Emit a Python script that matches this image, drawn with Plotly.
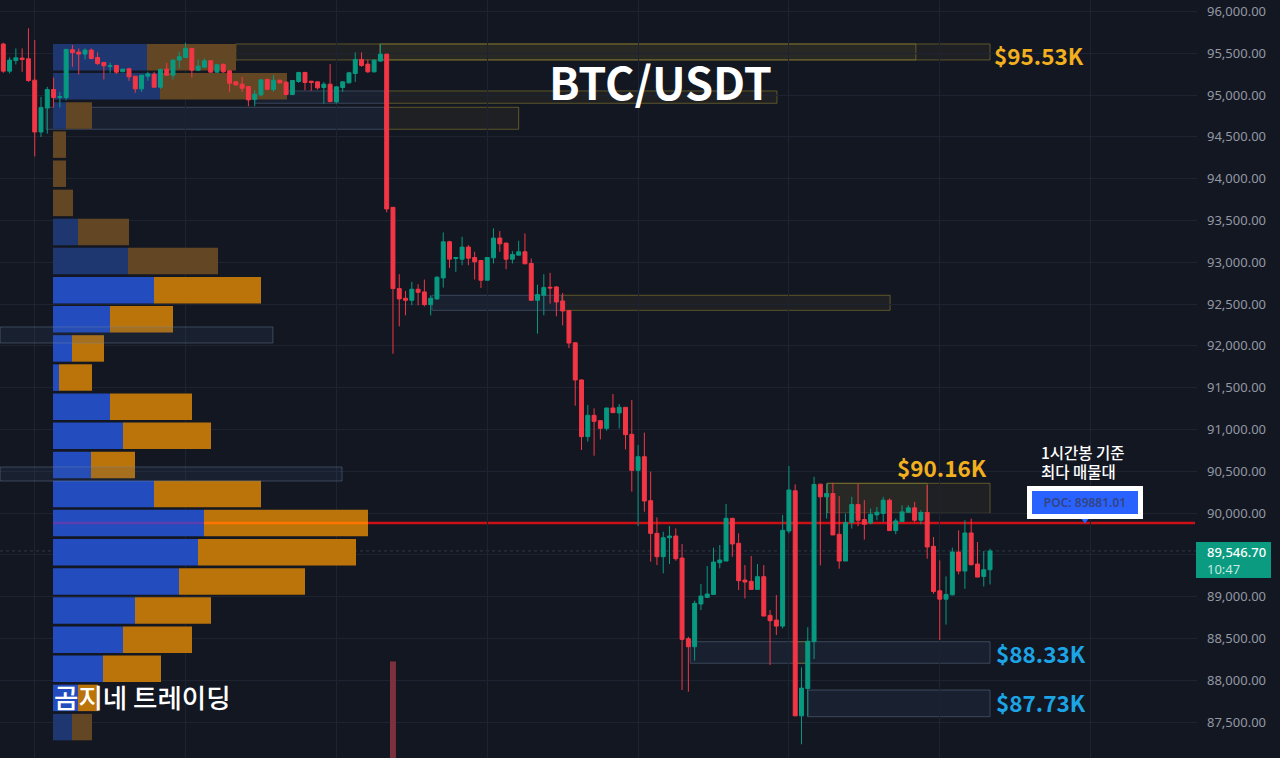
# BTC/USDT 1h chart with volume profile and zones
import plotly.graph_objects as go

# Candles, oldest first
open_ = [
    95610, 95286, 95414, 95442, 95434, 95178, 94558, 94846, 95066, 94970,
    94970, 95542, 95514, 95490, 95538, 95450, 95390, 95342, 95354, 95278,
    95314, 95226, 95074, 95226, 95250, 95094, 95310, 95238, 95418, 95450,
    95558, 95298, 95334, 95410, 95274, 95366, 95290, 95158, 95130, 95102,
    94946, 95002, 95186, 95066, 95178, 95154, 95006, 95162, 95270, 95166,
    95158, 95090, 95130, 94918, 95090, 95146, 95258, 95426, 95370, 95278,
    95406, 95490, 93657, 92685, 92569, 92545, 92677, 92645, 92493, 92561,
    92813, 93245, 93045, 93037, 93181, 93057, 93021, 92785, 93053, 93289,
    93229, 93037, 93085, 93125, 92985, 92545, 92605, 92701, 92705, 92537,
    92421, 92037, 91592, 90914, 91169, 91105, 91013, 91257, 91197, 91265,
    90942, 90511, 90674, 90148, 89757, 89478, 89705, 89725, 89462, 88497,
    88401, 88912, 88991, 89027, 89406, 89426, 89937, 89638, 89199, 89183,
    89087, 89239, 88776, 88720, 88648, 89785, 90266, 87574, 87902, 88462,
    90346, 90194, 90234, 89746, 89426, 89886, 90102, 89922, 89882, 89978,
    89994, 90154, 89790, 89898, 90010, 90062, 89914, 90006, 89602, 89070,
    88970, 89022, 89534, 89306, 89762, 89390, 89242, 89322,
]
high = [
    95626, 95450, 95558, 95558, 95798, 95658, 94978, 95098, 95210, 95038,
    95546, 95598, 95558, 95558, 95558, 95510, 95390, 95386, 95362, 95310,
    95326, 95226, 95238, 95278, 95278, 95318, 95386, 95426, 95518, 95626,
    95558, 95426, 95438, 95418, 95370, 95378, 95298, 95166, 95218, 95110,
    95058, 95186, 95198, 95238, 95178, 95166, 95178, 95278, 95278, 95170,
    95166, 95158, 95370, 95106, 95166, 95278, 95510, 95510, 95426, 95426,
    95610, 95490, 93657, 92857, 92657, 92765, 92737, 92793, 92605, 92833,
    93357, 93257, 93057, 93305, 93205, 93125, 93021, 93057, 93405, 93373,
    93233, 93133, 93257, 93345, 93045, 92733, 92857, 92873, 92713, 92633,
    92429, 92045, 91600, 91293, 91253, 91105, 91257, 91424, 91305, 91265,
    91352, 90814, 90962, 90495, 89948, 89777, 89845, 89817, 89630, 88521,
    88952, 89151, 89366, 89586, 89618, 90108, 89937, 89757, 89378, 89486,
    89390, 89378, 88840, 89019, 89976, 90563, 90342, 88154, 88634, 90434,
    90346, 90354, 90362, 90202, 89994, 90194, 90354, 90154, 90054, 90074,
    90194, 90174, 89934, 90094, 90094, 90134, 90034, 90334, 89714, 89434,
    89242, 89586, 89794, 89914, 89934, 89654, 89546, 89574,
]
low = [
    95266, 95258, 95366, 95278, 95158, 94266, 94498, 94538, 94850, 94850,
    94938, 95338, 95246, 95426, 95426, 95358, 95186, 95266, 95250, 95278,
    95170, 95026, 95038, 95170, 95086, 95074, 95238, 95186, 95318, 95442,
    95210, 95286, 95326, 95266, 95266, 95266, 95038, 95110, 95038, 94866,
    94866, 94986, 95058, 95038, 95138, 94998, 94998, 95146, 95058, 95050,
    95066, 94898, 94914, 94898, 95038, 95138, 95158, 95338, 95266, 95270,
    95398, 93598, 91905, 92233, 92365, 92485, 92485, 92473, 92365, 92553,
    92697, 92933, 92885, 92965, 92965, 92793, 92693, 92785, 92985, 93125,
    92917, 92985, 93085, 92981, 92545, 92145, 92365, 92505, 92353, 92245,
    91973, 91284, 90754, 90854, 90686, 90882, 90985, 91201, 91013, 90762,
    90256, 89845, 90016, 89418, 89378, 89279, 89390, 89430, 87883, 87863,
    88234, 88840, 88991, 89027, 89338, 89426, 89478, 89079, 88979, 89087,
    89087, 88768, 88182, 88541, 88621, 89757, 87574, 87234, 87566, 88254,
    89374, 89934, 89738, 89334, 89426, 89814, 89842, 89682, 89866, 89914,
    89894, 89790, 89746, 89898, 90010, 89894, 89866, 89454, 89034, 88482,
    88666, 89014, 89266, 89094, 89374, 89234, 89122, 89146,
]
close = [
    95286, 95418, 95446, 95426, 95174, 94558, 94850, 95066, 94970, 94982,
    95546, 95506, 95490, 95538, 95438, 95378, 95350, 95350, 95274, 95310,
    95218, 95074, 95238, 95254, 95094, 95306, 95238, 95418, 95458, 95558,
    95298, 95346, 95410, 95274, 95362, 95278, 95142, 95122, 95082, 94942,
    95010, 95182, 95070, 95178, 95146, 95006, 95174, 95270, 95150, 95150,
    95086, 95130, 94922, 95098, 95158, 95266, 95426, 95354, 95278, 95418,
    95490, 93638, 92685, 92561, 92545, 92677, 92641, 92493, 92569, 92821,
    93245, 93037, 93057, 93181, 93049, 93005, 92785, 93057, 93289, 93221,
    93037, 93093, 93125, 92981, 92545, 92613, 92697, 92693, 92525, 92417,
    92033, 91592, 90914, 91169, 91097, 91013, 91257, 91201, 91265, 90938,
    90511, 90674, 90144, 89757, 89478, 89705, 89725, 89454, 88489, 88401,
    88920, 89007, 89031, 89414, 89438, 89937, 89630, 89191, 89175, 89087,
    89239, 88768, 88712, 88648, 89793, 90276, 87574, 87906, 88466, 90342,
    90194, 90234, 89738, 89426, 89886, 90102, 89914, 89866, 89986, 90010,
    90154, 89790, 89906, 90014, 90062, 89914, 90006, 89594, 89062, 88970,
    89026, 89534, 89306, 89762, 89382, 89234, 89322, 89546.7,
]
bars = list(range(len(close)))

# Volume profile, one row per price level
profile_price = [
    95452, 95104, 94755, 94407, 94059, 93710, 93362, 93014,
    92665, 92317, 91969, 91620, 91272, 90924, 90575, 90227,
    89881, 89530, 89182, 88834, 88485, 88137, 87789, 87440,
]
profile_buy = [94, 107, 13, 0, 0, 0, 25, 75, 101, 57, 19, 6, 57, 70, 38, 101, 151, 145, 126, 82, 70, 50, 25, 19]
profile_sell = [89, 127, 26, 13, 13, 20, 51, 90, 107, 63, 32, 33, 82, 88, 44, 107, 164, 158, 126, 76, 69, 58, 20, 20]
faded_rows = [0, 1, 2, 3, 4, 5, 6, 7, 23]

# Zones: first bar, last bar, top price, bottom price
blue_start = [40.0, 6.8, 68.2, -0.5, -0.5, 109.3, 128.0]
blue_end = [60.7, 60.7, 88.9, 42.9, 53.9, 157.0, 157.0]
blue_top = [95049, 94854, 92605, 92226, 90551, 88461, 87883]
blue_bottom = [94902, 94591, 92425, 92034, 90383, 88203, 87564]

gold_start = [37.0, 59.9, 60.7, 60.7, 88.9, 131.1, 131.1, 126.0]
gold_end = [145.2, 157.0, 123.1, 82.0, 141.1, 157.0, 147.0, 128.0]
gold_top = [95611, 95611, 95049, 94854, 92605, 90356, 90356, 88461]
gold_bottom = [95420, 95420, 94902, 94591, 92425, 89997, 89997, 88203]

poc_price = 89881.01
last_price = 89546.7

# Only one volume bar reaches the visible area
volume_bar = [62]
volume_value = [1155]

price_ticks = list(range(87500, 96500, 500))
price_labels = ["" if p == 89500 else f"{p:,.2f}" for p in price_ticks]

BG = "#131722"
GRID = "#1d2330"
KR = "Noto Sans CJK KR"
GOLD = "#f2b01e"
SKY = "#1ca5e6"
PLOT_W = 1197
PLOT_H = 758
Y_RANGE = [87070, 96137]
X_RANGE = [-0.525, 189.93]

fig = go.Figure()

buy_colors = ["#1e3770" if i in faded_rows else "#234dbe" for i in range(len(profile_buy))]
sell_colors = ["#634724" if i in faded_rows else "#ba740a" for i in range(len(profile_sell))]
fig.add_bar(y=profile_price, x=profile_buy, base=0, orientation="h", width=317,
            marker=dict(color=buy_colors, line_width=0), xaxis="x", yaxis="y", hoverinfo="skip")
fig.add_bar(y=profile_price, x=profile_sell, base=profile_buy, orientation="h", width=317,
            marker=dict(color=sell_colors, line_width=0), xaxis="x", yaxis="y", hoverinfo="skip")

fig.add_bar(x=volume_bar, y=volume_value, base=Y_RANGE[0], width=0.95,
            marker=dict(color="#7d303e", line_width=0), xaxis="x2", yaxis="y", hoverinfo="skip")

fig.add_trace(go.Candlestick(
    x=bars, open=open_, high=high, low=low, close=close,
    increasing=dict(line=dict(color="#089981", width=1), fillcolor="#089981"),
    decreasing=dict(line=dict(color="#f23645", width=1), fillcolor="#f23645"),
    xaxis="x2", yaxis="y",
))

# POC pointer under the label
fig.add_trace(go.Scatter(
    x=[172.1], y=[89930], mode="markers", xaxis="x2", yaxis="y", hoverinfo="skip",
    marker=dict(symbol="triangle-down", size=9, color="#2962ff"),
))

# Zones
for x0, x1, y1, y0 in zip(blue_start, blue_end, blue_top, blue_bottom):
    # the two left-edge zones run across the profile bars
    fig.add_shape(type="rect", xref="x2", yref="y", x0=x0, x1=x1, y0=y0, y1=y1,
                  layer="above" if x0 < 0 else "below",
                  fillcolor="rgba(60,85,130,0.16)", line=dict(color="rgba(115,135,165,0.4)", width=1))
for x0, x1, y1, y0 in zip(gold_start, gold_end, gold_top, gold_bottom):
    fig.add_shape(type="rect", xref="x2", yref="y", x0=x0, x1=x1, y0=y0, y1=y1, layer="below",
                  fillcolor="rgba(125,110,45,0.11)", line=dict(color="rgba(150,135,50,0.55)", width=1))

# Last price and POC lines
fig.add_shape(type="line", xref="paper", yref="y", x0=0, x1=1, y0=last_price, y1=last_price, layer="below",
              line=dict(color="#2e3a44", width=1, dash="dot"))
fig.add_shape(type="line", xref="x", yref="y", x0=profile_buy[16] + profile_sell[16], x1=1142,
              y0=poc_price, y1=poc_price, layer="below", line=dict(color="#cc1016", width=2.5))
fig.add_shape(type="line", xref="x", yref="y", x0=0, x1=profile_buy[16],
              y0=poc_price, y1=poc_price, layer="above", line=dict(color="#5b3fb0", width=2.5))
fig.add_shape(type="line", xref="x", yref="y", x0=profile_buy[16], x1=profile_buy[16] + profile_sell[16],
              y0=poc_price, y1=poc_price, layer="above", line=dict(color="#ff7300", width=2.5))

# Last price tag behind its text
fig.add_shape(type="rect", xref="paper", yref="paper", x0=1196 / PLOT_W, x1=1271 / PLOT_W,
              y0=1 - 578 / PLOT_H, y1=1 - 542 / PLOT_H, layer="above",
              fillcolor="#0b9b80", line_width=0)


def note(text, x, y, size, color, weight=400, anchor="left", family=KR, align="left", **kw):
    fig.add_annotation(text=text, xref="paper", yref="paper", x=x / PLOT_W, y=1 - y / PLOT_H,
                       xanchor=anchor, yanchor="middle", showarrow=False, align=align,
                       font=dict(family=family, size=size, color=color, weight=weight), **kw)


note("BTC/USDT", 660, 80, 45, "#ffffff", 700, anchor="center")
note("$95.53K", 992, 55, 22.5, GOLD, 700)
note("$90.16K", 895, 467, 22.5, GOLD, 700)
note("$88.33K", 994, 653, 22.5, SKY, 700)
note("$87.73K", 994, 702, 22.5, SKY, 700)
note("1시간봉 기준", 1039, 452, 15.5, "#ffffff", 500)
note("최다 매물대", 1039, 471, 15.5, "#ffffff", 500)
note("곰지네 트레이딩", 52, 696, 26.5, "#ffffff", 500)
note("POC: 89881.01", 1085, 502, 12, "#33447f", 600, anchor="center", family="Noto Sans", align="center",
     bgcolor="#2962ff", bordercolor="#ffffff", borderwidth=5, borderpad=0, width=106, height=23)
note("89,546.70", 1205, 552, 13, "#ffffff", 500, family="Noto Sans")
note("10:47", 1205, 569, 13, "#c5e8e0", 400, family="Noto Sans")

fig.update_layout(
    width=1280, height=758, autosize=False,
    margin=dict(l=0, r=83, t=0, b=0),
    paper_bgcolor=BG, plot_bgcolor=BG,
    showlegend=False, barmode="overlay", boxgap=0.1,
    xaxis=dict(range=[-53, 1144], tick0=-18.3, dtick=150.84, showgrid=True, gridcolor=GRID,
               gridwidth=1, showticklabels=False, zeroline=False, ticks=""),
    xaxis2=dict(range=X_RANGE, overlaying="x", anchor="y", visible=False, rangeslider=dict(visible=False)),
    yaxis=dict(range=Y_RANGE, side="right", tickmode="array", tickvals=price_ticks, ticktext=price_labels,
               showgrid=True, gridcolor=GRID, gridwidth=1, zeroline=False, ticks="",
               ticklabelstandoff=9, tickfont=dict(family="Noto Sans", size=13, color="#9398a3")),
)

fig.write_html("out.html", config=dict(displayModeBar=False),
               post_script="document.body.style.margin='0';document.body.style.overflow='hidden';")
